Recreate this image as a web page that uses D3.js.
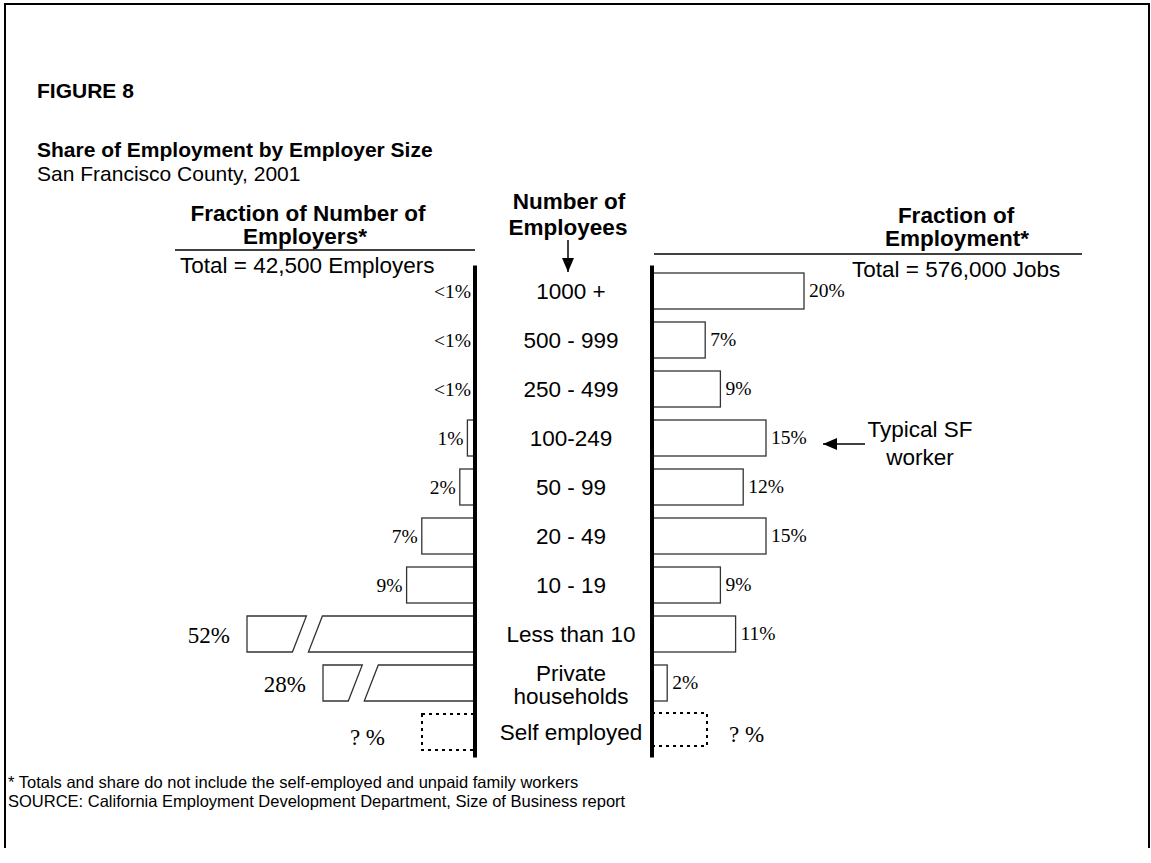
<!DOCTYPE html>
<html>
<head>
<meta charset="utf-8">
<script src="https://cdn.jsdelivr.net/npm/d3@7"></script>
<style>
  body { margin: 0; background: #fff; }
  svg { display: block; }
  .sans { font-family: "Liberation Sans", Arial, sans-serif; }
  .serif { font-family: "Liberation Serif", "Times New Roman", serif; }
</style>
</head>
<body>
<svg id="chart" width="1151" height="863"></svg>
<script>
// employer size classes, top to bottom
const sizeClasses = ["1000 +", "500 - 999", "250 - 499", "100-249", "50 - 99",
  "20 - 49", "10 - 19", "Less than 10", "Private households", "Self employed"];
// share of number of employers (%), null = unknown
const employerShare = [0, 0, 0, 1, 2, 7, 9, 52, 28, null];
const employerLabels = ["<1%", "<1%", "<1%", "1%", "2%", "7%", "9%", "52%", "28%", "? %"];
// share of employment (%)
const employmentShare = [20, 7, 9, 15, 12, 15, 9, 11, 2, null];
const employmentLabels = ["20%", "7%", "9%", "15%", "12%", "15%", "9%", "11%", "2%", "? %"];

const svg = d3.select("#chart");
const leftAxisX = 475, rightAxisX = 652, centerX = 571;

// frame
svg.append("path")
  .attr("d", "M5,848 V4 H1149 V848")
  .attr("fill", "none").attr("stroke", "#000").attr("stroke-width", 2);

function txt(x, y, s, size, weight, anchor, cls) {
  return svg.append("text").attr("class", cls || "sans")
    .attr("x", x).attr("y", y)
    .attr("font-size", size).attr("font-weight", weight || "normal")
    .attr("text-anchor", anchor || "start").text(s);
}

// titles
txt(37, 98, "FIGURE 8", 21, "bold");
txt(37, 157, "Share of Employment by Employer Size", 21, "bold");
txt(37, 181, "San Francisco County, 2001", 21);

// y scale: one band per size class
const y = d3.scaleBand().domain(sizeClasses)
  .range([266.5, 756.5]).paddingInner(13 / 49).paddingOuter(6.5 / 49);

// left side uses a broken scale above 10%
const breakAt = 10;
const xLeft = d3.scaleLinear().domain([0, breakAt, 28, 52]).range([0, 76, 152, 228]);
const xRight = d3.scaleLinear().domain([0, 20]).range([0, 152]);

// column headers
txt(308, 221, "Fraction of Number of", 22.5, "bold", "middle");
txt(305, 244, "Employers*", 22.5, "bold", "middle");
svg.append("line").attr("x1", 175).attr("x2", leftAxisX).attr("y1", 250).attr("y2", 250)
  .attr("stroke", "#000").attr("stroke-width", 1.3);
txt(180, 273, "Total = 42,500 Employers", 22.5);

txt(569, 209, "Number of", 22.5, "bold", "middle");
txt(568, 235, "Employees", 22.5, "bold", "middle");

txt(956, 223, "Fraction of", 22.5, "bold", "middle");
txt(957, 246, "Employment*", 22.5, "bold", "middle");
svg.append("line").attr("x1", 654).attr("x2", 1082).attr("y1", 254).attr("y2", 254)
  .attr("stroke", "#000").attr("stroke-width", 1.3);
txt(852, 277, "Total = 576,000 Jobs", 22.5);

// arrow head
svg.append("defs").append("marker")
  .attr("id", "head").attr("viewBox", "0 0 14 12").attr("refX", 14).attr("refY", 6)
  .attr("markerWidth", 14).attr("markerHeight", 12).attr("markerUnits", "userSpaceOnUse")
  .attr("orient", "auto")
  .append("path").attr("d", "M0,0 L14,6 L0,12 Z").attr("fill", "#000");

svg.append("line").attr("x1", 568).attr("x2", 568).attr("y1", 240).attr("y2", 272)
  .attr("stroke", "#000").attr("stroke-width", 1.5).attr("marker-end", "url(#head)");

const rows = sizeClasses.map((c, i) => ({
  cls: c, emp: employerShare[i], empLab: employerLabels[i],
  job: employmentShare[i], jobLab: employmentLabels[i]
}));
const bh = y.bandwidth();
const barStroke = "#333";

// left bars (drawn towards the left from the axis)
rows.forEach(d => {
  const top = y(d.cls), bot = top + bh, mid = top + bh / 2;
  if (d.emp === null) {
    svg.append("rect").attr("x", leftAxisX - 53).attr("y", top).attr("width", 53).attr("height", bh)
      .attr("fill", "none").attr("stroke", "#000").attr("stroke-width", 2).attr("stroke-dasharray", "3,4");
    txt(leftAxisX - 90, mid + 13, d.empLab, 23, "normal", "end", "serif");
    return;
  }
  const len = xLeft(d.emp);
  const x0 = leftAxisX - len;
  if (d.emp > breakAt) {
    // broken bar: two pieces split by a slanted gap
    const bx = leftAxisX - 0.735 * len, g = 8, s = 7;
    svg.append("path")
      .attr("d", `M${x0},${top} L${bx - g + s},${top} L${bx - g - s},${bot} L${x0},${bot} Z`)
      .attr("fill", "#fff").attr("stroke", barStroke).attr("stroke-width", 1.3);
    svg.append("path")
      .attr("d", `M${bx + g + s},${top} L${leftAxisX},${top} L${leftAxisX},${bot} L${bx + g - s},${bot} Z`)
      .attr("fill", "#fff").attr("stroke", barStroke).attr("stroke-width", 1.3);
    txt(x0 - 17, mid + 9, d.empLab, 23, "normal", "end", "serif");
  } else {
    if (len > 0) {
      svg.append("rect").attr("x", x0).attr("y", top).attr("width", len).attr("height", bh)
        .attr("fill", "#fff").attr("stroke", barStroke).attr("stroke-width", 1.3);
    }
    txt(x0 - 4, mid + 7, d.empLab, 19.5, "normal", "end", "serif");
  }
});

// right bars
rows.forEach(d => {
  const top = y(d.cls), mid = top + bh / 2;
  if (d.job === null) {
    svg.append("rect").attr("x", rightAxisX).attr("y", top - 1).attr("width", 55).attr("height", bh - 3)
      .attr("fill", "none").attr("stroke", "#000").attr("stroke-width", 2).attr("stroke-dasharray", "3,4");
    txt(rightAxisX + 77, mid + 10, d.jobLab, 23, "normal", "start", "serif");
    return;
  }
  const len = xRight(d.job);
  svg.append("rect").attr("x", rightAxisX).attr("y", top).attr("width", len).attr("height", bh)
    .attr("fill", "#fff").attr("stroke", barStroke).attr("stroke-width", 1.3);
  txt(rightAxisX + len + 5, mid + 6, d.jobLab, 19.5, "normal", "start", "serif");
});

// center category labels
rows.forEach(d => {
  const mid = y(d.cls) + bh / 2;
  if (d.cls === "Private households") {
    txt(centerX, mid - 2, "Private", 22.5, "normal", "middle");
    txt(centerX, mid + 21, "households", 22.5, "normal", "middle");
  } else {
    txt(centerX, mid + 8, d.cls, 22.5, "normal", "middle");
  }
});

// the two thick axes
[leftAxisX, rightAxisX].forEach(x => {
  svg.append("line").attr("x1", x).attr("x2", x)
    .attr("y1", y.range()[0] - 1).attr("y2", y.range()[1] + 1)
    .attr("stroke", "#000").attr("stroke-width", 4);
});

// annotation
txt(920, 437, "Typical SF", 22.5, "normal", "middle");
txt(920, 465, "worker", 22.5, "normal", "middle");
svg.append("line").attr("x1", 865).attr("x2", 823).attr("y1", 444).attr("y2", 444)
  .attr("stroke", "#000").attr("stroke-width", 1.5).attr("marker-end", "url(#head)");

// footnotes
txt(8, 788, "* Totals and share do not include the self-employed and unpaid family workers", 16.5);
txt(8, 807, "SOURCE: California Employment Development Department, Size of Business report", 16.5);
</script>
</body>
</html>
